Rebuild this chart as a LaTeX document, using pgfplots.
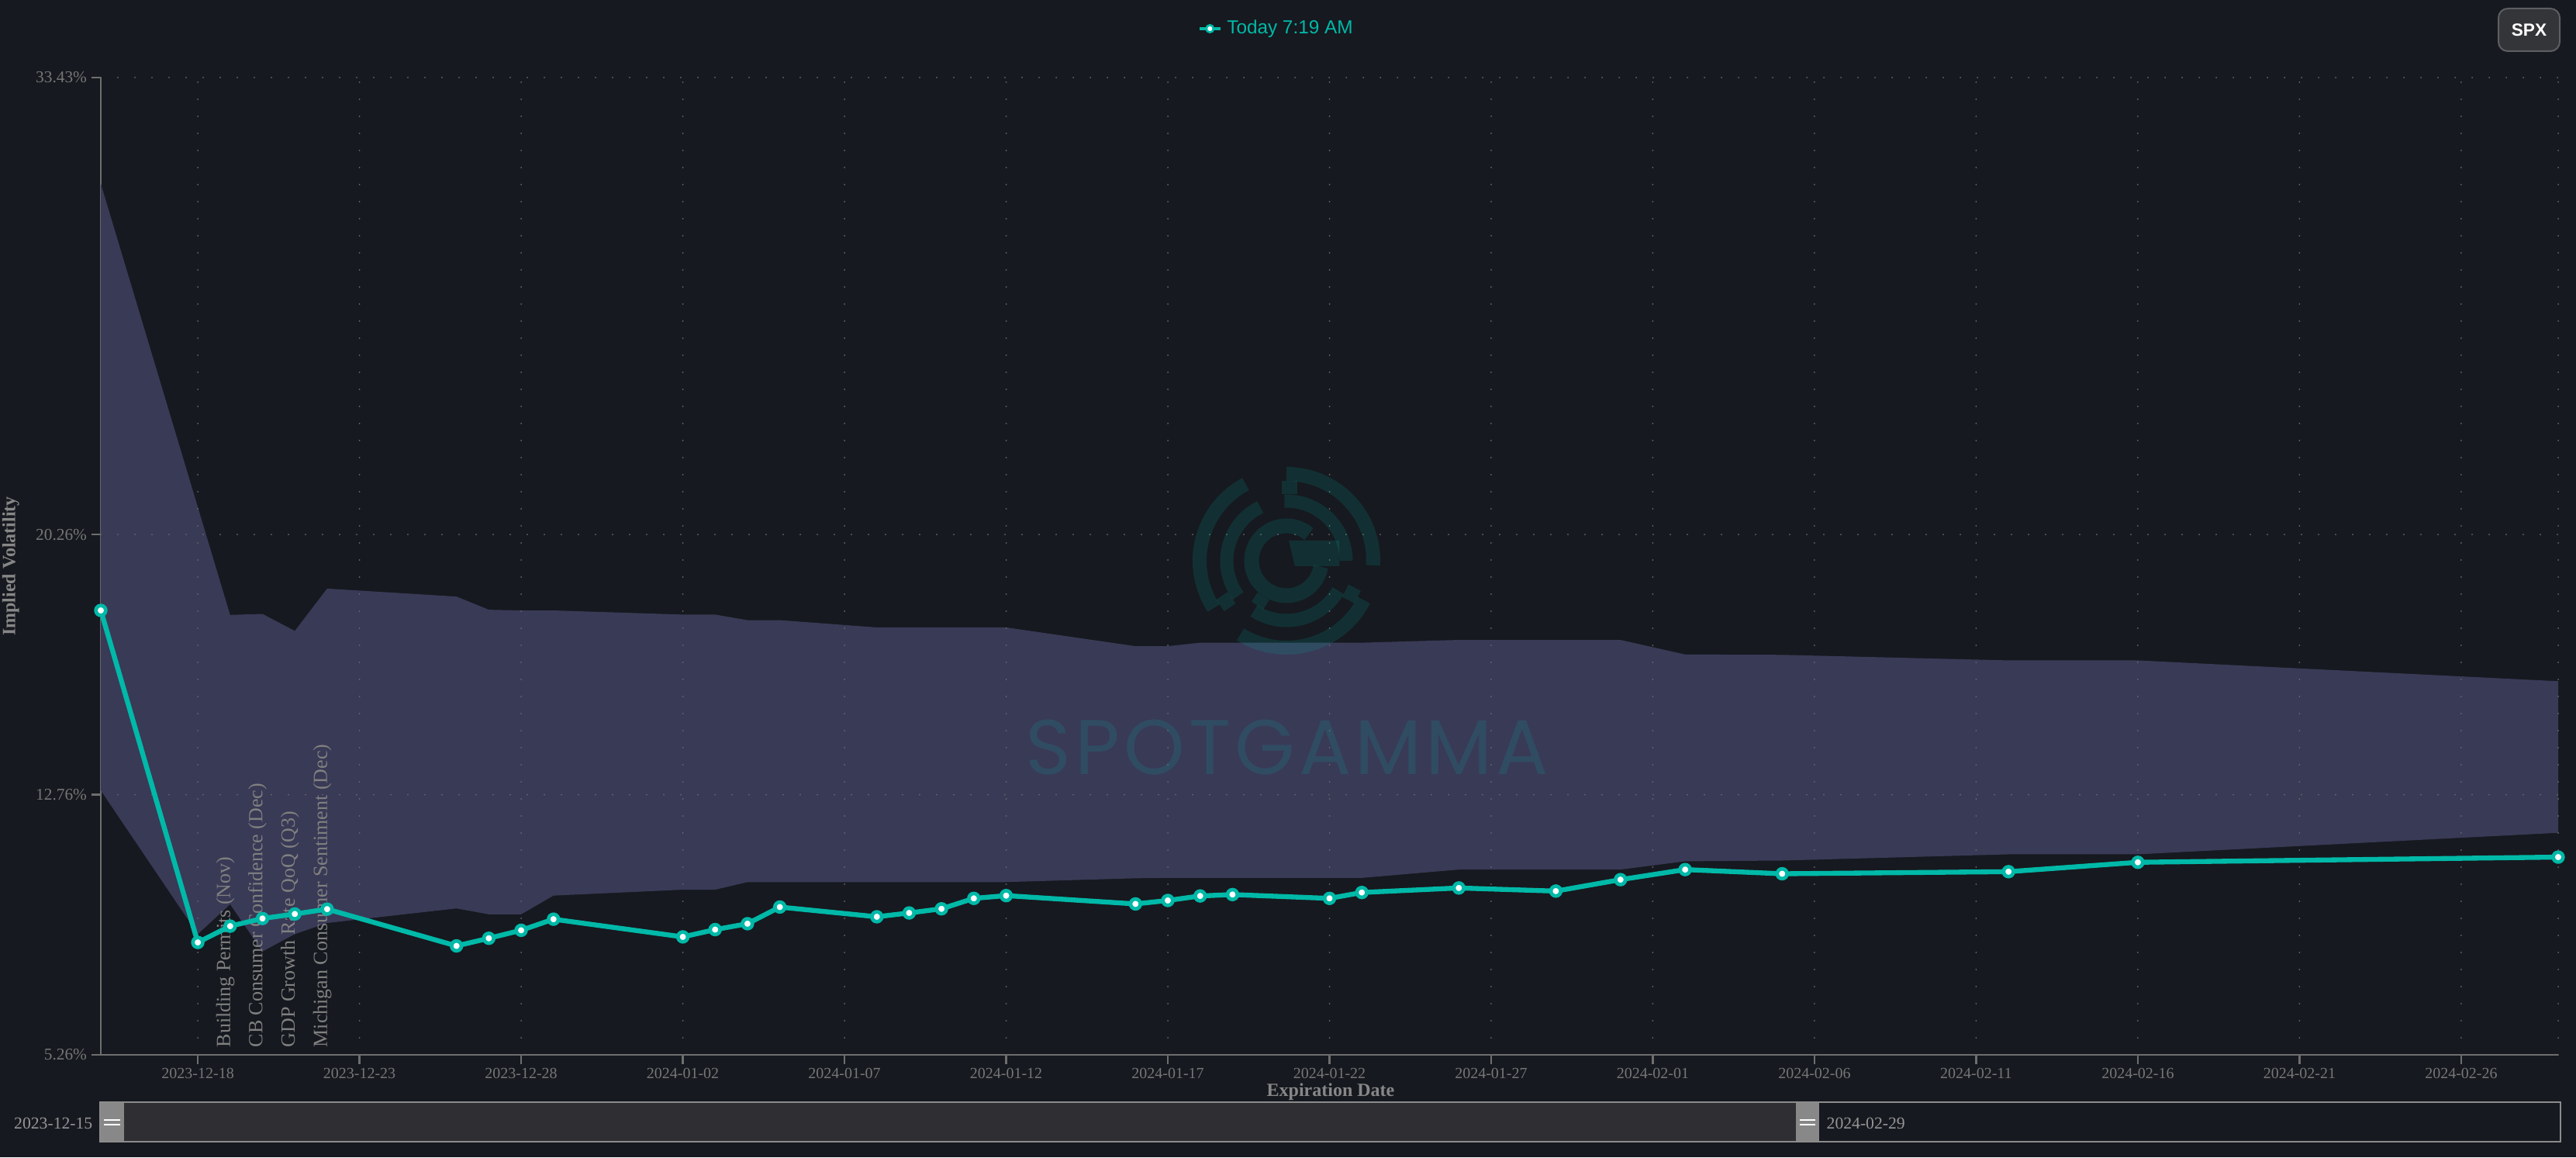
\documentclass[border=0pt]{standalone}
\usepackage{pgfplots}
\pgfplotsset{compat=1.18}
\usepackage{pgfplotstable}
\usetikzlibrary{calc}
\usepackage{fontspec}
\setmainfont{Liberation Serif}
\newfontfamily\sansf{Liberation Sans}
\newfontfamily\popf[LetterSpace=5]{Poppins}

\definecolor{bg}{RGB}{22,25,31}
\definecolor{band}{RGB}{57,58,86}
\definecolor{tealc}{RGB}{0,185,168}
\definecolor{axisgray}{RGB}{110,110,110}
\definecolor{gridgray}{RGB}{105,105,108}
\definecolor{tickgray}{RGB}{118,118,118}
\definecolor{labgray}{RGB}{135,135,135}
\definecolor{evgray}{RGB}{128,128,128}
\definecolor{btnfill}{RGB}{51,53,57}
\definecolor{btnedge}{RGB}{92,94,98}
\definecolor{slfill}{RGB}{46,46,51}
\definecolor{slhandle}{RGB}{136,136,136}
\definecolor{sledge}{RGB}{140,140,140}
\definecolor{sltext}{RGB}{150,150,150}

% d = days after 2023-12-15; iv = today's implied vol (%)
\pgfplotstableread{
d  iv
0  18.07
3  8.50
4  8.97
5  9.19
6  9.32
7  9.46
11 8.40
12 8.62
13 8.85
14 9.17
18 8.66
19 8.87
20 9.04
21 9.52
24 9.24
25 9.35
26 9.47
27 9.77
28 9.85
32 9.61
33 9.71
34 9.84
35 9.88
38 9.77
39 9.94
42 10.07
45 9.98
47 10.31
49 10.60
52 10.48
59 10.54
63 10.81
76 10.96
}\ivdata

% band outline: upper edge left to right, then lower edge right to left
\pgfplotstableread{
d  v
0  30.37
3  21.05
4  17.94
5  17.97
6  17.48
7  18.70
11 18.47
12 18.09
13 18.07
14 18.07
18 17.95
19 17.95
20 17.79
21 17.79
24 17.58
25 17.58
26 17.58
27 17.58
28 17.58
32 17.04
33 17.04
34 17.14
35 17.14
38 17.14
39 17.14
42 17.22
45 17.22
47 17.22
49 16.80
52 16.79
59 16.63
63 16.63
76 16.03
76 11.66
63 11.04
59 11.04
52 10.86
49 10.84
47 10.60
45 10.60
42 10.60
39 10.36
38 10.36
35 10.36
34 10.36
33 10.36
32 10.35
28 10.24
27 10.24
26 10.24
25 10.24
24 10.24
21 10.24
20 10.24
19 10.02
18 10.02
14 9.85
13 9.31
12 9.31
11 9.48
7  9.06
6  8.74
5  8.24
4  9.60
3  8.74
0  12.88
}\banddata

\tikzset{gridline/.style={gridgray, line width=0.6pt, line cap=round, dash pattern=on 0pt off 6.6pt}}

\begin{document}
\begin{tikzpicture}
\fill[bg] (-39pt,-39.6pt) rectangle (957.6pt,408pt);

\begin{axis}[
  at={(0pt,0pt)}, anchor=south west,
  scale only axis, width=950.7pt, height=378pt,
  xmin=0, xmax=76, ymin=5.26, ymax=33.43,
  axis x line*=bottom, axis y line*=left,
  axis line style={axisgray, line width=0.8pt},
  xtick={3,8,13,18,23,28,33,38,43,48,53,58,63,68,73},
  xticklabels={2023-12-18,2023-12-23,2023-12-28,2024-01-02,2024-01-07,2024-01-12,2024-01-17,2024-01-22,2024-01-27,2024-02-01,2024-02-06,2024-02-11,2024-02-16,2024-02-21,2024-02-26},
  ytick={5.26,12.76,20.26,33.43},
  yticklabels={5.26\%,12.76\%,20.26\%,33.43\%},
  tick style={axisgray, line width=0.8pt},
  major tick length=3.6pt, tick align=outside, minor tick num=0,
  xticklabel style={font=\fontsize{6}{7}\selectfont, text=tickgray, inner sep=0pt, anchor=north, yshift=-1.35pt},
  yticklabel style={font=\fontsize{6.4}{7}\selectfont, text=tickgray, inner sep=0pt, anchor=east, xshift=-1.6pt},
  legend style={at={(0.4465,1.05)}, anchor=west, draw=none, fill=none,
    inner sep=0pt, outer sep=0pt, font=\sansf\fontsize{7.3}{8}\selectfont, text=tealc,
    /tikz/every odd column/.append style={column sep=0pt}},
]
\addplot[fill=band, draw=none, forget plot] table[x=d,y=v]{\banddata} -- cycle;

\pgfplotsinvokeforeach{3,8,13,18,23,28,33,38,43,48,53,58,63,68,73}{
  \draw[gridline] (axis cs:#1,5.26) -- (axis cs:#1,33.43);
}
\pgfplotsinvokeforeach{12.76,20.26}{
  \draw[gridline] (axis cs:0,#1) -- (axis cs:76,#1);
}

\node[rotate=90, anchor=base west, inner sep=0pt, text=evgray, font=\fontsize{7.8}{9}\selectfont] at ($(axis cs:4,5.26)+(0pt,2.7pt)$) {Building Permits (Nov)};
\node[rotate=90, anchor=base west, inner sep=0pt, text=evgray, font=\fontsize{7.8}{9}\selectfont] at ($(axis cs:5,5.26)+(0pt,2.7pt)$) {CB Consumer Confidence (Dec)};
\node[rotate=90, anchor=base west, inner sep=0pt, text=evgray, font=\fontsize{7.8}{9}\selectfont] at ($(axis cs:6,5.26)+(0pt,2.7pt)$) {GDP Growth Rate QoQ (Q3)};
\node[rotate=90, anchor=base west, inner sep=0pt, text=evgray, font=\fontsize{7.8}{9}\selectfont] at ($(axis cs:7,5.26)+(0pt,2.7pt)$) {Michigan Consumer Sentiment (Dec)};

\addplot[tealc, line width=1.9pt, mark=*, mark size=1.9pt,
  mark options={fill=white, draw=tealc, line width=1.4pt},
  legend image code/.code={
    \draw[tealc, line width=1.1pt] (0pt,0pt) -- (8.1pt,0pt);
    \draw[tealc, fill=white, line width=0.8pt] (4.05pt,0pt) circle (1.4pt);
  }] table[x=d,y=iv]{\ivdata};
\addlegendentry{Today 7:19 AM}
\end{axis}

% top and right dotted borders
\draw[gridline] (0pt,378pt) -- (950.7pt,378pt);
\draw[gridline] (950.7pt,0pt) -- (950.7pt,378pt);

% watermark
\begin{scope}[shift={(458.7pt,191.1pt)}, tealc, opacity=0.15, line cap=butt]
  \draw[line width=5.4pt] (118:33.6pt) arc[start angle=118, end angle=213, radius=33.6pt];
  \draw[line width=5.4pt] (90:33.6pt) arc[start angle=90, end angle=-3, radius=33.6pt];
  \draw[line width=5.4pt] (-27:33.6pt) arc[start angle=-27, end angle=-122, radius=33.6pt];
  \draw[line width=5.1pt] (116:23.1pt) arc[start angle=116, end angle=216, radius=23.1pt];
  \draw[line width=5.1pt] (92:23.1pt) arc[start angle=92, end angle=0, radius=23.1pt];
  \draw[line width=5.1pt] (-30:23.1pt) arc[start angle=-30, end angle=-123, radius=23.1pt];
  \draw[line width=5.7pt] (50:13.5pt) arc[start angle=50, end angle=350, radius=13.5pt];
  \fill (0.9pt,7.8pt) -- (20.4pt,7.8pt) -- (20.4pt,-2.1pt) -- (3.3pt,-2.1pt) -- cycle;
  \fill (-1.8pt,25.7pt) rectangle (4.2pt,30.9pt);
  \draw[line width=5.4pt] (-27:25.6pt) -- (-27:30.9pt);
  \draw[line width=5.4pt] (214:25.6pt) -- (214:30.9pt);
  \draw[line width=5.4pt] (237:16.4pt) -- (237:20.6pt);
\end{scope}
\node[font=\popf\fontsize{30}{30}\selectfont, text=tealc, opacity=0.15, inner sep=0pt] at (459pt,118.8pt) {SPOTGAMMA};

% axis titles
\node[rotate=90, font=\bfseries\fontsize{7.2}{8}\selectfont, text=labgray] at (-34.8pt,189pt) {Implied Volatility};
\node[font=\bfseries\fontsize{7.2}{8}\selectfont, text=labgray] at (475.8pt,-14.4pt) {Expiration Date};

% SPX button
\draw[btnedge, fill=btnfill, line width=0.6pt, rounded corners=3.6pt] (927.6pt,388.2pt) rectangle (951.3pt,404.7pt);
\node[font=\sansf\bfseries\fontsize{6.8}{8}\selectfont, text=white] at (939.45pt,396.45pt) {SPX};

% range slider
\fill[slfill] (9pt,-33.6pt) rectangle (655.8pt,-18.3pt);
\fill[slhandle] (-0.3pt,-33.6pt) rectangle (9pt,-18.3pt);
\fill[slhandle] (655.8pt,-33.6pt) rectangle (664.8pt,-18.3pt);
\draw[white, line width=0.6pt] (1.2pt,-25.2pt) -- (7.5pt,-25.2pt) (1.2pt,-27pt) -- (7.5pt,-27pt);
\draw[white, line width=0.6pt] (657.3pt,-25.2pt) -- (663.3pt,-25.2pt) (657.3pt,-27pt) -- (663.3pt,-27pt);
\draw[sledge, line width=0.75pt] (-0.3pt,-33.6pt) rectangle (951.6pt,-18.3pt);
\node[anchor=east, inner sep=0pt, font=\fontsize{6.5}{7}\selectfont, text=sltext] at (-3pt,-26.4pt) {2023-12-15};
\node[anchor=west, inner sep=0pt, font=\fontsize{6.5}{7}\selectfont, text=sltext] at (667.5pt,-26.4pt) {2024-02-29};

\pgfresetboundingbox
\path[use as bounding box] (-39pt,-39.6pt) rectangle (957.6pt,408pt);
\end{tikzpicture}
\end{document}
